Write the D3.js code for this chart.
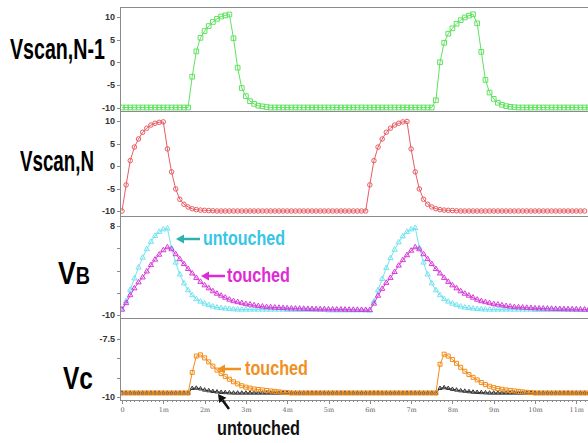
<html>
<head>
    <title>Scan line coupling waveforms</title>
    <script src="https://d3js.org/d3.v7.min.js"></script>
    <style>
        body { margin: 0; background: #fff; }

        .axis path,
        .axis line {
            fill: none;
            stroke: #8a8a8a;
            shape-rendering: crispEdges;
        }

        .yaxis text {
            font-family: "Liberation Sans Narrow", "Liberation Sans", sans-serif;
            font-weight: bold;
            font-size: 9px;
            fill: #333;
        }

        .xaxis text {
            font-family: "DejaVu Serif", serif;
            font-size: 6.5px;
            fill: #666;
        }

        .sig-label {
            font-family: "Liberation Sans Narrow", "Liberation Sans", sans-serif;
            font-weight: bold;
            fill: #000;
        }

        .note {
            font-family: "Liberation Sans Narrow", "Liberation Sans", sans-serif;
            font-weight: bold;
            font-size: 20px;
        }
    </style>
</head>
<body>
<div id="vis_container"></div>

<script>
    // one sample every 0.1 ms
    var tStep = 0.1;

    var vScanN1 = [
        -10,-10,-10,-10,-10,-10,-10,-10,-10,-10,-10,-10,-10,-10,-10,-10,-10,
        -3.2,2.4,5.4,6.9,8.0,8.9,9.6,10.1,10.35,10.55,
        5.3,-1.2,-5.7,-7.5,-8.6,-9.2,-9.6,-9.75,-9.9,
        -10,-10,-10,-10,-10,-10,-10,-10,-10,-10,-10,-10,-10,-10,-10,-10,-10,-10,-10,-10,
        -10,-10,-10,-10,-10,-10,-10,-10,-10,-10,-10,-10,-10,-10,-10,-10,-10,-10,-10,-10,
        -8.4,0.0,4.3,6.3,7.5,8.5,9.3,9.9,10.3,10.6,
        8.6,2.3,-3.9,-6.7,-8.1,-8.95,-9.4,-9.7,-9.85,-9.95,
        -10,-10,-10,-10,-10,-10,-10,-10,-10,-10,-10,-10,-10,-10,-10,-10,-10,-10
    ];

    var vScanN = [
        -10,-4.2,1.2,4.2,6.0,7.5,8.4,9.1,9.5,9.7,9.8,
        3.8,-1.3,-5.1,-7.4,-8.5,-9.1,-9.5,-9.7,-9.8,-9.85,-9.9,-9.95,
        -10,-10,-10,-10,-10,-10,-10,-10,-10,-10,-10,-10,-10,-10,-10,-10,-10,-10,-10,
        -10,-10,-10,-10,-10,-10,-10,-10,-10,-10,-10,-10,-10,-10,-10,-10,-10,
        -10,-4.2,1.2,4.2,6.0,7.5,8.4,9.1,9.5,9.8,9.9,
        3.8,-1.3,-5.1,-7.4,-8.5,-9.1,-9.5,-9.7,-9.8,-9.85,-9.9,-9.95,
        -10,-10,-10,-10,-10,-10,-10,-10,-10,-10,-10,-10,-10,-10,-10,-10,
        -10,-10,-10,-10,-10,-10,-10,-10,-10,-10,-10,-10,-10,-10,-10
    ];

    var vbUntouched = [
        -8.9,-7.2,-4.9,-2.6,-0.4,1.6,3.3,4.8,6.0,6.8,7.3,7.5,
        3.5,0.6,-1.8,-3.6,-5.0,-6.0,-6.8,-7.3,-7.7,-8.0,-8.3,-8.5,-8.6,-8.7,-8.8,-8.85,
        -8.9,-8.9,-8.9,-8.9,-8.9,-8.9,-8.9,-8.9,-8.9,-8.9,-8.9,-8.9,
        -8.95,-8.95,-8.95,-8.95,-8.95,-8.95,-8.95,-8.95,-8.95,-8.95,
        -9.05,-9.05,-9.05,-9.05,-9.05,-9.05,-9.05,-9.05,-9.05,-9.05,
        -9.1,-7.3,-5.0,-2.7,-0.5,1.5,3.2,4.7,5.9,6.8,7.3,7.6,
        3.6,0.6,-1.8,-3.6,-5.0,-6.0,-6.8,-7.3,-7.7,-8.0,-8.3,-8.5,-8.6,-8.7,-8.8,-8.85,
        -8.9,-8.9,-8.9,-8.9,-8.9,-8.9,-8.9,-8.9,-8.9,-8.9,-8.9,-8.9,
        -8.95,-8.95,-8.95,-8.95,-8.95,-8.95,-8.95,-8.95,-8.95,-8.95,
        -9.0,-9.0,-9.0,-9.0
    ];

    var vbTouched = [
        -8.9,-7.6,-6.0,-4.6,-3.4,-2.4,-1.2,0.1,1.2,2.2,3.1,3.7,
        3.3,2.3,1.3,0.3,-0.7,-1.6,-2.5,-3.3,-4.0,-4.6,-5.2,-5.7,-6.1,-6.5,-6.9,-7.2,
        -7.4,-7.6,-7.8,-7.9,-8.05,-8.2,-8.3,-8.4,-8.45,-8.5,-8.55,-8.6,
        -8.65,-8.68,-8.7,-8.72,-8.75,-8.78,-8.8,-8.82,-8.84,-8.85,
        -8.87,-8.88,-8.9,-8.9,-8.92,-8.93,-8.95,-8.96,-8.98,-9.0,
        -9.0,-7.7,-6.1,-4.7,-3.5,-2.5,-1.3,0.0,1.1,2.1,3.0,3.7,
        3.3,2.3,1.3,0.3,-0.7,-1.6,-2.5,-3.3,-4.0,-4.6,-5.2,-5.7,-6.1,-6.5,-6.9,-7.2,
        -7.4,-7.6,-7.8,-7.9,-8.05,-8.2,-8.3,-8.4,-8.45,-8.5,-8.55,-8.6,
        -8.65,-8.68,-8.7,-8.72,-8.75,-8.78,-8.8,-8.82,-8.84,-8.85,
        -8.87,-8.88,-8.9,-8.9
    ];

    var vcTouched = [
        -9.83,-9.83,-9.83,-9.83,-9.83,-9.83,-9.83,-9.83,-9.83,-9.83,-9.83,-9.83,-9.83,-9.83,-9.83,-9.83,-9.83,
        -8.95,-8.25,-8.2,-8.33,-8.5,-8.68,-8.85,-9.0,-9.12,-9.24,-9.35,-9.44,-9.52,-9.58,
        -9.62,-9.66,-9.68,-9.7,-9.72,-9.74,-9.76,-9.78,-9.8,-9.81,
        -9.83,-9.83,-9.83,-9.83,-9.83,-9.83,-9.83,-9.83,-9.83,-9.83,-9.83,-9.83,-9.83,-9.83,-9.83,-9.83,-9.83,-9.83,
        -9.83,-9.83,-9.83,-9.83,-9.83,-9.83,-9.83,-9.83,-9.83,-9.83,-9.83,-9.83,-9.83,-9.83,-9.83,-9.83,-9.83,
        -9.83,-8.6,-8.17,-8.25,-8.4,-8.56,-8.73,-8.9,-9.04,-9.16,-9.27,-9.38,-9.47,-9.54,-9.6,
        -9.64,-9.67,-9.7,-9.72,-9.74,-9.76,-9.78,-9.8,-9.81,
        -9.83,-9.83,-9.83,-9.83,-9.83,-9.83,-9.83,-9.83,-9.83,-9.83,-9.83,-9.83,-9.83,-9.83
    ];

    var vcUntouched = [
        -9.83,-9.83,-9.83,-9.83,-9.83,-9.83,-9.83,-9.83,-9.83,-9.83,-9.83,-9.83,-9.83,-9.83,-9.83,-9.83,-9.83,
        -9.63,-9.62,-9.65,-9.7,-9.73,-9.76,-9.78,-9.8,-9.81,-9.82,
        -9.83,-9.83,-9.83,-9.83,-9.83,-9.83,-9.83,-9.83,-9.83,-9.83,-9.83,-9.83,-9.83,-9.83,-9.83,-9.83,-9.83,-9.83,-9.83,-9.83,-9.83,-9.83,-9.83,-9.83,-9.83,
        -9.83,-9.83,-9.83,-9.83,-9.83,-9.83,-9.83,-9.83,-9.83,-9.83,-9.83,-9.83,-9.83,-9.83,-9.83,-9.83,-9.83,-9.83,-9.83,-9.83,-9.83,-9.83,-9.83,-9.83,-9.83,
        -9.63,-9.6,-9.63,-9.67,-9.7,-9.73,-9.75,-9.77,-9.79,-9.8,-9.81,-9.82,
        -9.83,-9.83,-9.83,-9.83,-9.83,-9.83,-9.83,-9.83,-9.83,-9.83,-9.83,-9.83,-9.83,-9.83,-9.83,-9.83,-9.83,-9.83,-9.83,-9.83,-9.83,-9.83,-9.83,-9.83,-9.83
    ];

    // tick values and which of them carry a label
    var scanTicks = [10, 5, 0, -5, -10];
    var vbTicks = [8, 3.5, -1, -5.5, -10];
    var vbTickLabels = [8, -10];
    var vcTicks = [-7.5, -8.3333, -9.1667, -10];
    var vcTickLabels = [-7.5, -10];
    var timeTicks = [0, 1, 2, 3, 4, 5, 6, 7, 8, 9, 10, 11];

    var width = 588;
    var height = 443;
    var axisX = 120;

    var svg = d3.select("#vis_container")
            .append("svg")
            .attr("width", width)
            .attr("height", height);

    var x = d3.scaleLinear()
            .domain([0, 11.3])
            .range([122, 588.7]);

    //each panel: vertical extent and y scale
    var panels = [
        {top: 7,   bottom: 111, y: d3.scaleLinear().domain([-10, 10]).range([107.5, 17]),  ticks: scanTicks, labels: scanTicks},
        {top: 111, bottom: 216, y: d3.scaleLinear().domain([-10, 10]).range([211, 121]),   ticks: scanTicks, labels: scanTicks},
        {top: 216, bottom: 318, y: d3.scaleLinear().domain([-10, 8]).range([315, 226]),    ticks: vbTicks,   labels: vbTickLabels},
        {top: 318, bottom: 400, y: d3.scaleLinear().domain([-10, -7.5]).range([397, 338.5]), ticks: vcTicks, labels: vcTickLabels}
    ];

    var series = [
        {panel: 0, values: vScanN1,     color: "#5fe35f", symbol: d3.symbolSquare,   size: 22},
        {panel: 1, values: vScanN,      color: "#e85c62", symbol: d3.symbolCircle,   size: 16},
        {panel: 2, values: vbUntouched, color: "#72e3f0", symbol: d3.symbolTriangle, size: 12},
        {panel: 2, values: vbTouched,   color: "#d93ad9", symbol: d3.symbolTriangle, size: 12},
        {panel: 3, values: vcUntouched, color: "#333333", symbol: d3.symbolTriangle, size: 7},
        {panel: 3, values: vcTouched,   color: "#f28c17", symbol: d3.symbolSquare,   size: 16}
    ];

    //panel separators and the shared left axis line
    panels.forEach(function(p, k) {
        svg.append("line")
                .attr("x1", axisX).attr("x2", width)
                .attr("y1", p.top).attr("y2", p.top)
                .style("stroke", "#8a8a8a")
                .style("shape-rendering", "crispEdges");

        svg.append("clipPath")
                .attr("id", "clip" + k)
                .append("rect")
                .attr("x", axisX + 1)
                .attr("y", p.top + 1)
                .attr("width", width - axisX)
                .attr("height", p.bottom - p.top - 1);

        var labelled = p.labels;
        svg.append("g")
                .attr("class", "axis yaxis")
                .attr("transform", "translate(" + axisX + ",0)")
                .call(d3.axisLeft(p.y)
                        .tickValues(p.ticks)
                        .tickSize(3)
                        .tickPadding(2)
                        .tickFormat(function(d) { return labelled.indexOf(d) >= 0 ? String(d) : ""; }))
                .select(".domain").remove();
    });

    svg.append("line")
            .attr("x1", axisX).attr("x2", axisX)
            .attr("y1", 7).attr("y2", 400)
            .style("stroke", "#8a8a8a")
            .style("shape-rendering", "crispEdges");

    //time axis: minor ticks every 0.1 ms, labelled ticks every ms
    svg.append("g")
            .attr("class", "axis xaxis")
            .attr("transform", "translate(0,400)")
            .call(d3.axisBottom(x)
                    .tickValues(d3.range(0, 11.31, 0.1))
                    .tickSize(2)
                    .tickFormat(""))
            .select(".domain").remove();

    svg.append("g")
            .attr("class", "axis xaxis")
            .attr("transform", "translate(0,400)")
            .call(d3.axisBottom(x)
                    .tickValues(timeTicks)
                    .tickSize(4)
                    .tickPadding(3)
                    .tickFormat(function(d) { return d === 0 ? "0" : d + "m"; }))
            .select(".domain")
            .attr("d", "M" + axisX + ",0.5H" + width);

    //traces with their markers
    series.forEach(function(s) {
        var p = panels[s.panel];
        var g = svg.append("g").attr("clip-path", "url(#clip" + s.panel + ")");

        var line = d3.line()
                .x(function(d, i) { return x(i * tStep); })
                .y(function(d) { return p.y(d); });

        g.append("path")
                .datum(s.values)
                .attr("d", line)
                .style("fill", "none")
                .style("stroke", s.color)
                .style("stroke-width", 1);

        var sym = d3.symbol().type(s.symbol).size(s.size);
        g.selectAll("path.mk")
                .data(s.values)
                .enter().append("path")
                .attr("class", "mk")
                .attr("transform", function(d, i) { return "translate(" + x(i * tStep) + "," + p.y(d) + ")"; })
                .attr("d", sym)
                .style("fill", "none")
                .style("stroke", s.color)
                .style("stroke-width", 1);
    });

    //squeeze a text horizontally so it spans len pixels
    function squeeze(t, xPos, yPos, len) {
        var w = t.node().getComputedTextLength();
        t.attr("transform", "translate(" + xPos + "," + yPos + ") scale(" + (len / w) + ",1)");
    }

    //signal names on the left
    function sigLabel(parts, xPos, yPos, len) {
        var t = svg.append("text").attr("class", "sig-label");
        parts.forEach(function(p) {
            t.append("tspan").style("font-size", p[1] + "px").text(p[0]);
        });
        squeeze(t, xPos, yPos, len);
    }
    sigLabel([["Vscan,N-1", 30]], 10, 59, 95);
    sigLabel([["Vscan,N", 30]], 20, 171, 74);
    sigLabel([["V", 31], ["B", 23]], 58, 284, 32);
    sigLabel([["V", 31], ["c", 31]], 63, 389, 30);

    //annotations
    function arrow(x1, y1, x2, y2, color) {
        var ang = Math.atan2(y2 - y1, x2 - x1);
        var hl = 8, hw = 4.5;
        var bx = x2 - hl * Math.cos(ang), by = y2 - hl * Math.sin(ang);
        svg.append("line")
                .attr("x1", x1).attr("y1", y1)
                .attr("x2", bx).attr("y2", by)
                .style("stroke", color)
                .style("stroke-width", 2.5);
        svg.append("path")
                .attr("d", "M" + x2 + "," + y2 +
                        "L" + (bx - hw * Math.sin(ang)) + "," + (by + hw * Math.cos(ang)) +
                        "L" + (bx + hw * Math.sin(ang)) + "," + (by - hw * Math.cos(ang)) + "Z")
                .style("fill", color);
    }

    function note(txt, xPos, yPos, len, color) {
        var t = svg.append("text")
                .attr("class", "note")
                .style("fill", color)
                .text(txt);
        squeeze(t, xPos, yPos, len);
    }

    arrow(200, 239, 176, 239, "#2bb3ab");
    note("untouched", 203, 245, 82, "#36c6e6");

    arrow(225, 276, 201, 276, "#de2bd6");
    note("touched", 227, 282, 63, "#de2bd6");

    arrow(241, 369, 217, 369, "#f0901e");
    note("touched", 245, 375, 63, "#f0901e");

    arrow(229, 409, 218, 394, "#111");
    note("untouched", 217, 435, 83, "#111");
</script>
</body>
</html>
